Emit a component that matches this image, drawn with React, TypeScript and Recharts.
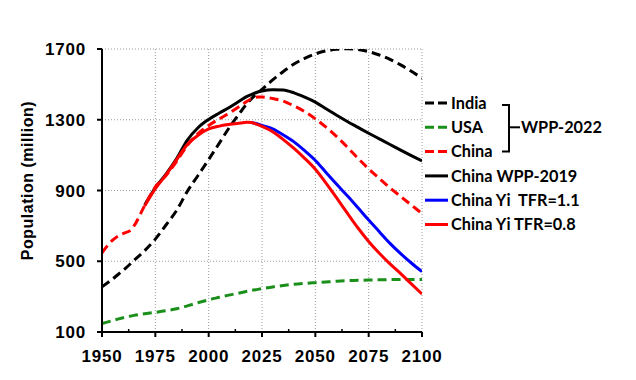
import React from 'react';
import { LineChart, Line, XAxis, YAxis, CartesianGrid, Legend } from 'recharts';

const years = [1950, 1955, 1959, 1961, 1963, 1965, 1970, 1975, 1980, 1985, 1990, 1995, 2000, 2005, 2010, 2015, 2018, 2020, 2023, 2025, 2030, 2035, 2040, 2045, 2050, 2055, 2060, 2065, 2070, 2075, 2080, 2085, 2090, 2095, 2100];

const india = [356, 400, 440, 460, 482, 505, 560, 625, 705, 788, 895, 985, 1075, 1168, 1262, 1345, 1392, 1418, 1452, 1472, 1525, 1573, 1615, 1647, 1672, 1689, 1698, 1701, 1697, 1685, 1666, 1641, 1610, 1574, 1535];
const usa = [147, 165, 178, 183, 189, 194, 203, 211, 220, 231, 248, 265, 282, 296, 310, 322, 330, 335, 341, 345, 355, 363, 370, 375, 379, 383, 387, 390, 392, 394, 395, 396, 397, 397, 397];
const chinaWpp2022 = [548, 620, 652, 662, 672, 700, 815, 920, 985, 1065, 1155, 1222, 1268, 1305, 1340, 1380, 1405, 1418, 1428, 1428, 1420, 1405, 1378, 1346, 1305, 1258, 1205, 1145, 1082, 1022, 968, 915, 866, 818, 770];
const chinaWpp2019 = [null, null, null, null, null, null, 818, 915, 992, 1080, 1185, 1255, 1302, 1338, 1372, 1410, 1432, 1442, 1457, 1463, 1470, 1468, 1452, 1428, 1400, 1362, 1325, 1290, 1257, 1224, 1192, 1160, 1128, 1097, 1067];
const chinaYi08 = [null, null, null, null, null, null, 812, 910, 988, 1075, 1160, 1212, 1248, 1264, 1274, 1282, 1286, 1284, 1272, 1262, 1232, 1188, 1138, 1082, 1020, 942, 858, 772, 688, 612, 545, 485, 430, 372, 315];
const chinaYi11 = [null, null, null, null, null, null, null, null, null, null, null, null, null, null, null, null, null, 1284, 1276, 1268, 1248, 1214, 1175, 1125, 1070, 1002, 935, 870, 802, 733, 667, 601, 543, 490, 441];

const xMajorTicks = [1950, 1975, 2000, 2025, 2050, 2075, 2100];
const xMinorTicks = [1962.5, 1987.5, 2012.5, 2037.5, 2062.5, 2087.5];
const yTicks = [100, 500, 900, 1300, 1700];

const data = years.map((year, i) => ({
  year,
  india: india[i],
  usa: usa[i],
  chinaWpp2022: chinaWpp2022[i],
  chinaWpp2019: chinaWpp2019[i],
  chinaYi08: chinaYi08[i],
  chinaYi11: chinaYi11[i],
}));

const RED = '#ff0000';
const GREEN = '#1a8f1a';
const BLUE = '#0000ff';
const BLACK = '#000000';
const DASH = '9 5';

// draw order
const drawSeries = [
  { key: 'usa', color: GREEN, dashed: true },
  { key: 'chinaWpp2019', color: BLACK, dashed: false },
  { key: 'india', color: BLACK, dashed: true },
  { key: 'chinaWpp2022', color: RED, dashed: true },
  { key: 'chinaYi11', color: BLUE, dashed: false },
  { key: 'chinaYi08', color: RED, dashed: false },
];

const legendItems = [
  { label: 'India', color: BLACK, dashed: true },
  { label: 'USA', color: GREEN, dashed: true },
  { label: 'China', color: RED, dashed: true },
  { label: 'China WPP-2019', color: BLACK, dashed: false },
  { label: 'China Yi  TFR=1.1', color: BLUE, dashed: false },
  { label: 'China Yi TFR=0.8', color: RED, dashed: false },
];
const bracketLabel = 'WPP-2022';

const TICK_FONT = { fontFamily: '"Liberation Sans", Arial, sans-serif', fontWeight: 700, fontSize: 17, fill: '#000' };
const LEGEND_FONT = { fontFamily: 'Lato, "Liberation Sans", sans-serif', fontWeight: 700, fontSize: 16.3, fill: '#000' };

const TICK_SIZE = 5;
const TICK_MARGIN = 13;

const XTick = (props: any) => {
  const { x, y, payload } = props;
  const v = payload.value;
  const major = xMajorTicks.includes(v);
  const axisY = y - TICK_SIZE - TICK_MARGIN;
  return (
    <g>
      {major ? (
        <line x1={x} x2={x} y1={axisY} y2={axisY + TICK_SIZE} stroke="#000" strokeWidth={2} />
      ) : (
        <line x1={x} x2={x} y1={axisY} y2={axisY - 3} stroke="#000" strokeWidth={1.5} />
      )}
      {major && (
        <text x={x} y={y} dy="0.71em" textAnchor="middle" style={{ letterSpacing: 0.8 }} {...TICK_FONT}>
          {v}
        </text>
      )}
    </g>
  );
};

const YLabel = (props: any) => {
  const vb = props.viewBox || { x: 0, y: 0, width: 0, height: 0 };
  const cx = vb.x + 27;
  const cy = vb.y + vb.height / 2 - 10;
  return (
    <text
      x={cx}
      y={cy}
      transform={`rotate(-90, ${cx}, ${cy})`}
      textAnchor="middle"
      dy="0.35em"
      style={{ letterSpacing: 0.5 }}
      {...TICK_FONT}
      fontSize={16}
    >
      Population (million)
    </text>
  );
};

const LegendContent = () => {
  const x0 = 425;
  const y0 = 103;
  const step = 24.3;
  const lineLen = 23;
  const textX = 451;
  const bx = 509;
  const yTop = y0 + 2;
  const yBot = y0 + 2 * step;
  const yMid = y0 + step;
  return (
    <svg width={636} height={380} style={{ position: 'absolute', left: 0, top: 0, overflow: 'visible', pointerEvents: 'none' }}>
      {legendItems.map((it, i) => {
        const y = y0 + i * step;
        return (
          <g key={it.label}>
            <line x1={x0} x2={x0 + lineLen} y1={y} y2={y} stroke={it.color} strokeWidth={3} strokeDasharray={it.dashed ? '9 4' : undefined} />
            <text x={textX} y={y} dy="0.36em" style={{ whiteSpace: 'pre' }} {...LEGEND_FONT}>
              {it.label}
            </text>
          </g>
        );
      })}
      <path d={`M${bx - 7},${yTop} H${bx} V${yBot} H${bx - 7}`} fill="none" stroke="#000" strokeWidth={2} />
      <line x1={bx} x2={bx + 11} y1={yMid} y2={yMid} stroke="#000" strokeWidth={2} />
      <text x={bx + 12} y={yMid} dy="0.36em" {...LEGEND_FONT}>
        {bracketLabel}
      </text>
    </svg>
  );
};

export default function App() {
  return (
    <div style={{ position: 'absolute', left: 0, top: 0, width: 636, height: 380, background: '#fff' }}>
      <LineChart width={636} height={380} data={data} margin={{ top: 49, right: 214, bottom: 18, left: 0 }}>
        <CartesianGrid
          stroke="#9a9a9a"
          strokeDasharray="1 2"
          verticalValues={xMajorTicks}
          horizontalValues={yTicks}
        />
        <XAxis
          dataKey="year"
          type="number"
          domain={[1950, 2100]}
          ticks={[...xMajorTicks, ...xMinorTicks].sort((a, b) => a - b)}
          interval={0}
          height={30}
          tickSize={TICK_SIZE}
          tickMargin={TICK_MARGIN}
          tickLine={false}
          axisLine={{ stroke: '#000', strokeWidth: 2 }}
          tick={<XTick />}
          allowDataOverflow
        />
        <YAxis
          type="number"
          domain={[100, 1700]}
          ticks={yTicks}
          interval={0}
          width={102}
          tickSize={5}
          tickMargin={11}
          tickLine={{ stroke: '#000', strokeWidth: 2 }}
          axisLine={{ stroke: '#000', strokeWidth: 2 }}
          tick={{ ...TICK_FONT, style: { letterSpacing: 0.8 } }}
          label={{ content: <YLabel /> }}
          allowDataOverflow
        />
        {drawSeries.map((s) => (
          <Line
            key={s.key}
            dataKey={s.key}
            type="monotone"
            stroke={s.color}
            strokeWidth={3}
            strokeDasharray={s.dashed ? DASH : undefined}
            dot={false}
            activeDot={false}
            isAnimationActive={false}
          />
        ))}
        <Legend
          content={<LegendContent />}
          wrapperStyle={{ position: 'absolute', left: 0, top: 0, width: 0, height: 0, overflow: 'visible' }}
        />
      </LineChart>
    </div>
  );
}
